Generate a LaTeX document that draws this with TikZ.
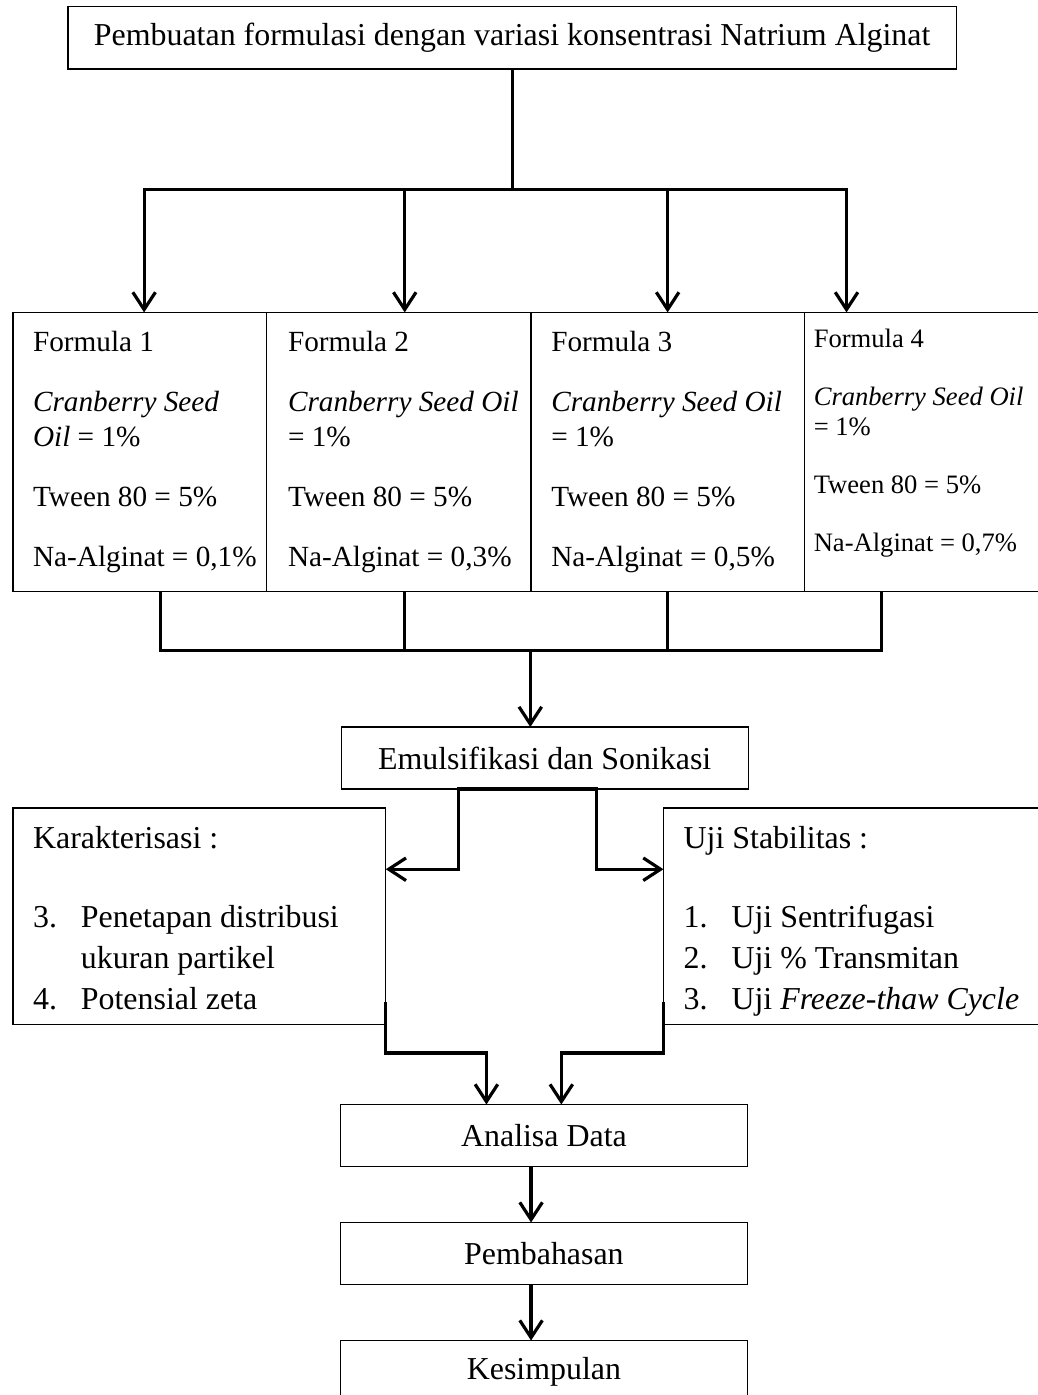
\documentclass[tikz,border=0pt]{standalone}
\usepackage{fontspec}
\setmainfont{Liberation Serif}
\usepackage{tikz}
\usetikzlibrary{arrows.meta,positioning}

\begin{document}
\begin{tikzpicture}[
      node distance=0.74cm,
      box/.style={draw, line width=0.5pt, outer sep=0pt, minimum width=5.38cm,
                  minimum height=0.82cm, align=center, font=\fontsize{12}{14}\selectfont},
      formbox/.style={draw, line width=0.5pt, outer sep=0pt, minimum height=3.69cm},
      listbox/.style={draw, line width=0.5pt, outer sep=0pt, minimum height=2.86cm,
                  anchor=north west},
      ftext/.style={anchor=north west, inner sep=0pt, align=left,
                  font=\fontsize{11}{13.2}\selectfont},
      ltext/.style={anchor=north west, inner sep=0pt, align=left,
                  font=\fontsize{12}{15.4}\selectfont},
      link/.style={line width=1.2pt},
      arrow/.style={-{Straight Barb[length=6.5pt, width=8.5pt]}, line width=1.2pt}
    ]
    \useasboundingbox (0,0) rectangle (13.71,-18.44);

    \node[box, minimum width=11.74cm] (top) at (6.77,-0.50)
      {Pembuatan formulasi dengan variasi konsentrasi Natrium Alginat};

    \node[formbox, minimum width=3.35cm, anchor=north west] (f1) at (0.17,-4.13) {};
    \node[formbox, minimum width=3.50cm, right=0pt of f1] (f2) {};
    \node[formbox, minimum width=3.61cm, right=0pt of f2] (f3) {};
    \node[formbox, minimum width=3.40cm, right=0pt of f3] (f4) {};

    \node[ftext] (f1text) at ([shift={(0.26,-0.24)}]f1.north west)
      {Formula 1\\[9.4pt]
       \textit{Cranberry Seed}\\
       \textit{Oil} = 1\%\\[9.4pt]
       Tween 80 = 5\%\\[9.4pt]
       Na-Alginat = 0,1\%};
    \node[ftext] (f2text) at ([shift={(0.28,-0.24)}]f2.north west)
      {Formula 2\\[9.4pt]
       \textit{Cranberry Seed Oil}\\
       = 1\%\\[9.4pt]
       Tween 80 = 5\%\\[9.4pt]
       Na-Alginat = 0,3\%};
    \node[ftext] (f3text) at ([shift={(0.26,-0.24)}]f3.north west)
      {Formula 3\\[9.4pt]
       \textit{Cranberry Seed Oil}\\
       = 1\%\\[9.4pt]
       Tween 80 = 5\%\\[9.4pt]
       Na-Alginat = 0,5\%};
    \node[ftext, font=\fontsize{10}{11.3}\selectfont] (f4text)
      at ([shift={(0.12,-0.21)}]f4.north west)
      {Formula 4\\[10.5pt]
       \textit{Cranberry Seed Oil}\\
       = 1\%\\[10.5pt]
       Tween 80 = 5\%\\[10.5pt]
       Na-Alginat = 0,7\%};

    \node[box] (emu) at (7.20,-10.02) {Emulsifikasi dan Sonikasi};

    \node[listbox, minimum width=4.93cm] (kar) at (0.17,-10.68) {};
    \node[listbox, minimum width=5.20cm] (uji) at (8.77,-10.68) {};
    \node[ltext] (kartext) at ([shift={(0.26,-0.24)}]kar.north west)
      {Karakterisasi :\\[14.3pt]
       \makebox[18pt][l]{3.}Penetapan distribusi\\
       \hspace*{18pt}ukuran partikel\\
       \makebox[18pt][l]{4.}Potensial zeta};
    \node[ltext] (ujitext) at ([shift={(0.26,-0.24)}]uji.north west)
      {Uji Stabilitas :\\[14.3pt]
       \makebox[18pt][l]{1.}Uji Sentrifugasi\\
       \makebox[18pt][l]{2.}Uji \% Transmitan\\
       \makebox[18pt][l]{3.}Uji \textit{Freeze-thaw Cycle}};

    \node[box] (ana) at (7.19,-15.01) {Analisa Data};
    \node[box, below=of ana] (pem) {Pembahasan};
    \node[box, below=of pem] (kes) {Kesimpulan};

    % fork to the four formulas
    \coordinate (fork) at ([yshift=-1.60cm]top.south);
    \draw[link] (top.south) -- (fork);
    \draw[arrow] (fork) -| ([xshift=0.06cm]f1.north);
    \draw[arrow] (fork) -| ([xshift=0.08cm]f2.north);
    \draw[arrow] (fork) -| (f3.north);
    \draw[arrow] (fork) -| ([xshift=0.56cm]f4.north west);

    % formulas back together
    \coordinate (join) at ([xshift=0.28cm, yshift=-0.78cm]f1.south);
    \coordinate (emuin) at ([xshift=-0.19cm]emu.north);
    \draw[link] ([xshift=0.28cm]f1.south) -- (join) -| ([xshift=1.02cm]f4.south west);
    \draw[link] ([xshift=0.08cm]f2.south) -- ++(0,-0.78);
    \draw[link] (f3.south) -- ++(0,-0.78);
    \draw[arrow] (join -| emuin) -- (emuin);

    \draw[arrow] (emu.south) -- ++(-1.14,0) |- ([yshift=0.62cm]kar.east);
    \draw[arrow] (emu.south) -- ++(0.69,0) |- ([yshift=0.62cm]uji.west);

    \draw[arrow] ([yshift=0.29cm]kar.south east) -- ++(0,-0.67)
      -| ([xshift=-0.76cm]ana.north);
    \draw[arrow] ([yshift=0.29cm]uji.south west) -- ++(0,-0.67)
      -| ([xshift=0.23cm]ana.north);

    \draw[arrow] ([xshift=-0.17cm]ana.south) -- ([xshift=-0.17cm]pem.north);
    \draw[arrow] ([xshift=-0.17cm]pem.south) -- ([xshift=-0.17cm]kes.north);
  \end{tikzpicture}
\end{document}
